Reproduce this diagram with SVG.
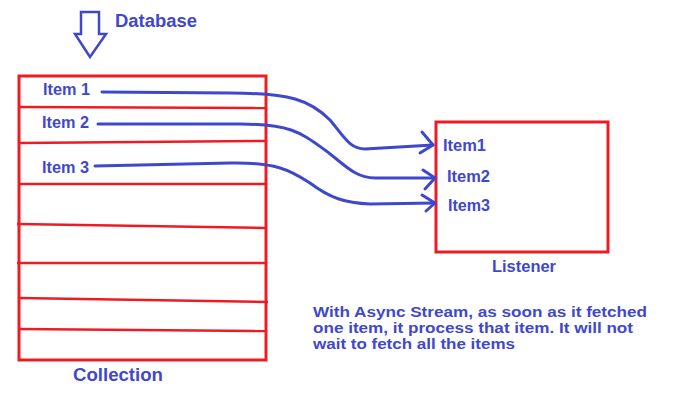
<svg xmlns="http://www.w3.org/2000/svg" width="700" height="400" viewBox="0 0 700 400">
<style>
.box{fill:none;stroke:#ed1c24;stroke-width:3}
.row{stroke:#ed1c24;stroke-width:2.5;fill:none}
.lbl{font-family:"Liberation Sans",Arial,sans-serif;font-weight:bold;fill:#3f48cc;font-size:16px}
.big{font-size:18px}
.para{font-size:14.5px}
.con{fill:none;stroke:#3f48cc;stroke-width:3;stroke-linecap:round;stroke-linejoin:round}
.arw{fill:none;stroke:#3f48cc;stroke-width:2.5;stroke-linejoin:miter}
</style>
<rect width="700" height="400" fill="#ffffff"/>
<g id="database">
<path class="arw" d="M81,12 L99,12 L99,34 L106,34 L90,57 L75,34 L81,34 Z"/>
<text class="lbl big" x="115" y="27" textLength="82" lengthAdjust="spacingAndGlyphs">Database</text>
</g>
<g id="collection">
<rect class="box" x="19" y="76" width="247" height="284"/>
<path class="row" d="M19,107 L266,108"/>
<path class="row" d="M19,143 L266,141"/>
<path class="row" d="M19,184 L266,184"/>
<path class="row" d="M17,224 L266,228"/>
<path class="row" d="M17,263 L266,263"/>
<path class="row" d="M19,298 L268,302"/>
<path class="row" d="M19,329 L266,331"/>
<text class="lbl" x="43" y="95" textLength="47" lengthAdjust="spacingAndGlyphs">Item 1</text>
<text class="lbl" x="42" y="128" textLength="47" lengthAdjust="spacingAndGlyphs">Item 2</text>
<text class="lbl" x="42" y="173" textLength="47" lengthAdjust="spacingAndGlyphs">Item 3</text>
<text class="lbl big" x="73" y="381" textLength="90" lengthAdjust="spacingAndGlyphs">Collection</text>
</g>
<g id="listener">
<rect class="box" x="436" y="122" width="172" height="130"/>
<text class="lbl" x="443" y="151" textLength="43" lengthAdjust="spacingAndGlyphs">Item1</text>
<text class="lbl" x="447" y="182" textLength="43" lengthAdjust="spacingAndGlyphs">Item2</text>
<text class="lbl" x="448" y="211" textLength="42" lengthAdjust="spacingAndGlyphs">Item3</text>
<text class="lbl" x="492" y="272" textLength="64" lengthAdjust="spacingAndGlyphs">Listener</text>
</g>
<g id="note">
<text class="lbl para" x="313" y="317" textLength="334" lengthAdjust="spacingAndGlyphs">With Async Stream, as soon as it fetched</text>
<text class="lbl para" x="313" y="333" textLength="320" lengthAdjust="spacingAndGlyphs">one item, it process that item. It will not</text>
<text class="lbl para" x="313" y="348.5" textLength="202" lengthAdjust="spacingAndGlyphs">wait to fetch all the items</text>
</g>
<g id="connectors">
<path class="con" d="M102,92 L230,93 C290,93 310,100 330,120 C345,138 350,149 365,149 L433,145"/>
<path class="con" d="M422,132 L433,145 L420,153"/>
<path class="con" d="M98,124 L240,124 C290,124 300,132 325,150 C345,165 355,178 375,178 L435,178"/>
<path class="con" d="M423,170 L435,178 L425,189"/>
<path class="con" d="M95,166 L230,163 C275,162 290,170 310,183 C330,198 345,203 370,204 L435,203"/>
<path class="con" d="M422,195 L435,203 L426,211"/>
</g>
</svg>
